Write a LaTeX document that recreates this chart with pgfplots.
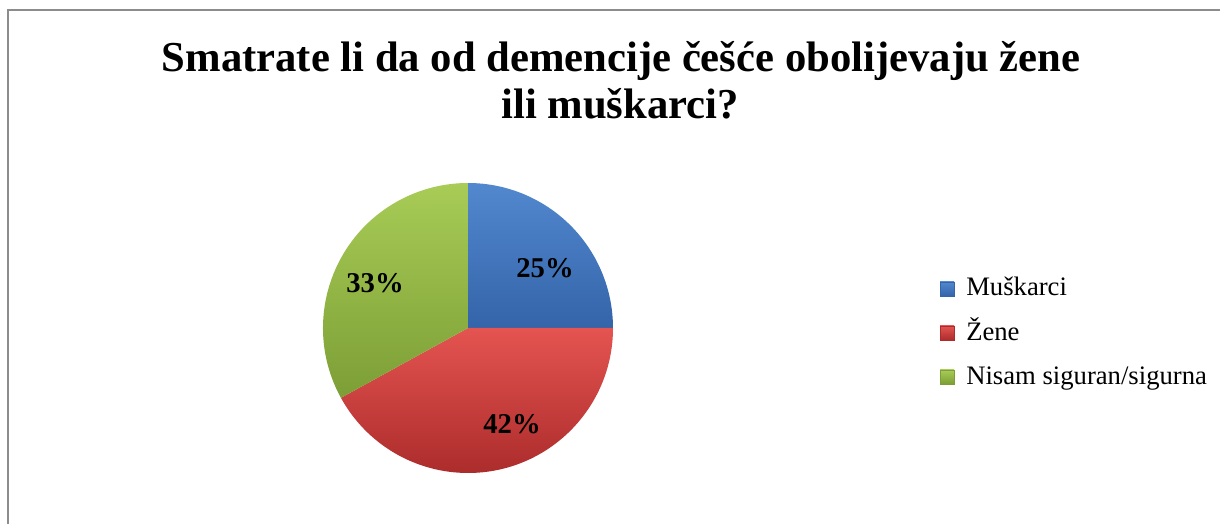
\documentclass[border=0pt]{standalone}
\usepackage{pgfplots}
\pgfplotsset{compat=1.18}
\usepackage{fontspec}
\setmainfont{Liberation Serif}
\definecolor{bluetop}{RGB}{82,136,206}
\definecolor{bluebot}{RGB}{52,100,170}
\definecolor{redtop}{RGB}{228,84,80}
\definecolor{redbot}{RGB}{172,44,44}
\definecolor{greentop}{RGB}{168,204,86}
\definecolor{greenbot}{RGB}{124,158,54}
\definecolor{frame}{RGB}{140,140,140}
\begin{document}
\begin{tikzpicture}
\begin{axis}[
  width=915pt, height=393pt, scale only axis,
  at={(0pt,0pt)}, anchor=south west,
  xmin=0, xmax=1220, ymin=0, ymax=524,
  hide axis, clip=false]
% values (percent)
\def\va{25}\def\vb{42}\def\vc{33}
\pgfmathsetmacro{\aA}{90}
\pgfmathsetmacro{\aB}{90-3.6*\va}
\pgfmathsetmacro{\aC}{\aB-3.6*\vb}
\pgfmathsetmacro{\aD}{\aC-3.6*\vc}
\def\R{108.75pt}
% frame
\draw[frame, line width=1.5pt] (axis cs:1220,514) -- (axis cs:8,514) -- (axis cs:8,0);
% wedges
\shade[top color=bluetop, bottom color=bluebot] (axis cs:468,196) -- ++(\aA:\R) arc[start angle=\aA, end angle=\aB, radius=\R] -- cycle;
\shade[top color=redtop, bottom color=redbot] (axis cs:468,196) -- ++(\aB:\R) arc[start angle=\aB, end angle=\aC, radius=\R] -- cycle;
\shade[top color=greentop, bottom color=greenbot] (axis cs:468,196) -- ++(\aC:\R) arc[start angle=\aC, end angle=\aD, radius=\R] -- cycle;
% data labels
\node[font=\fontsize{21.5}{24}\selectfont\bfseries] at (axis cs:545,256) {25\%};
\node[font=\fontsize{21.5}{24}\selectfont\bfseries] at (axis cs:512,100) {42\%};
\node[font=\fontsize{21.5}{24}\selectfont\bfseries] at (axis cs:375,241) {33\%};
% title
\node[anchor=base, font=\fontsize{32}{36}\selectfont\bfseries] at (axis cs:621,452) {Smatrate li da od demencije češće obolijevaju žene};
\node[anchor=base, font=\fontsize{32}{36}\selectfont\bfseries] at (axis cs:620,405) {ili muškarci?};
% legend
\shade[top color=bluetop, bottom color=bluebot, draw=bluebot] (axis cs:940,242) rectangle (axis cs:954,228);
\shade[top color=redtop, bottom color=redbot, draw=redbot] (axis cs:940,198) rectangle (axis cs:954,184);
\shade[top color=greentop, bottom color=greenbot, draw=greenbot] (axis cs:940,154) rectangle (axis cs:954,140);
\node[anchor=base west, inner sep=0pt, font=\fontsize{20}{24}\selectfont] at (axis cs:966,228) {Muškarci};
\node[anchor=base west, inner sep=0pt, font=\fontsize{20}{24}\selectfont] at (axis cs:966,183) {Žene};
\node[anchor=base west, inner sep=0pt, font=\fontsize{20}{24}\selectfont] at (axis cs:966,139) {Nisam siguran/sigurna};
\end{axis}
\pgfresetboundingbox
\path[use as bounding box] (0pt,0pt) rectangle (915pt,393pt);
\end{tikzpicture}
\end{document}
